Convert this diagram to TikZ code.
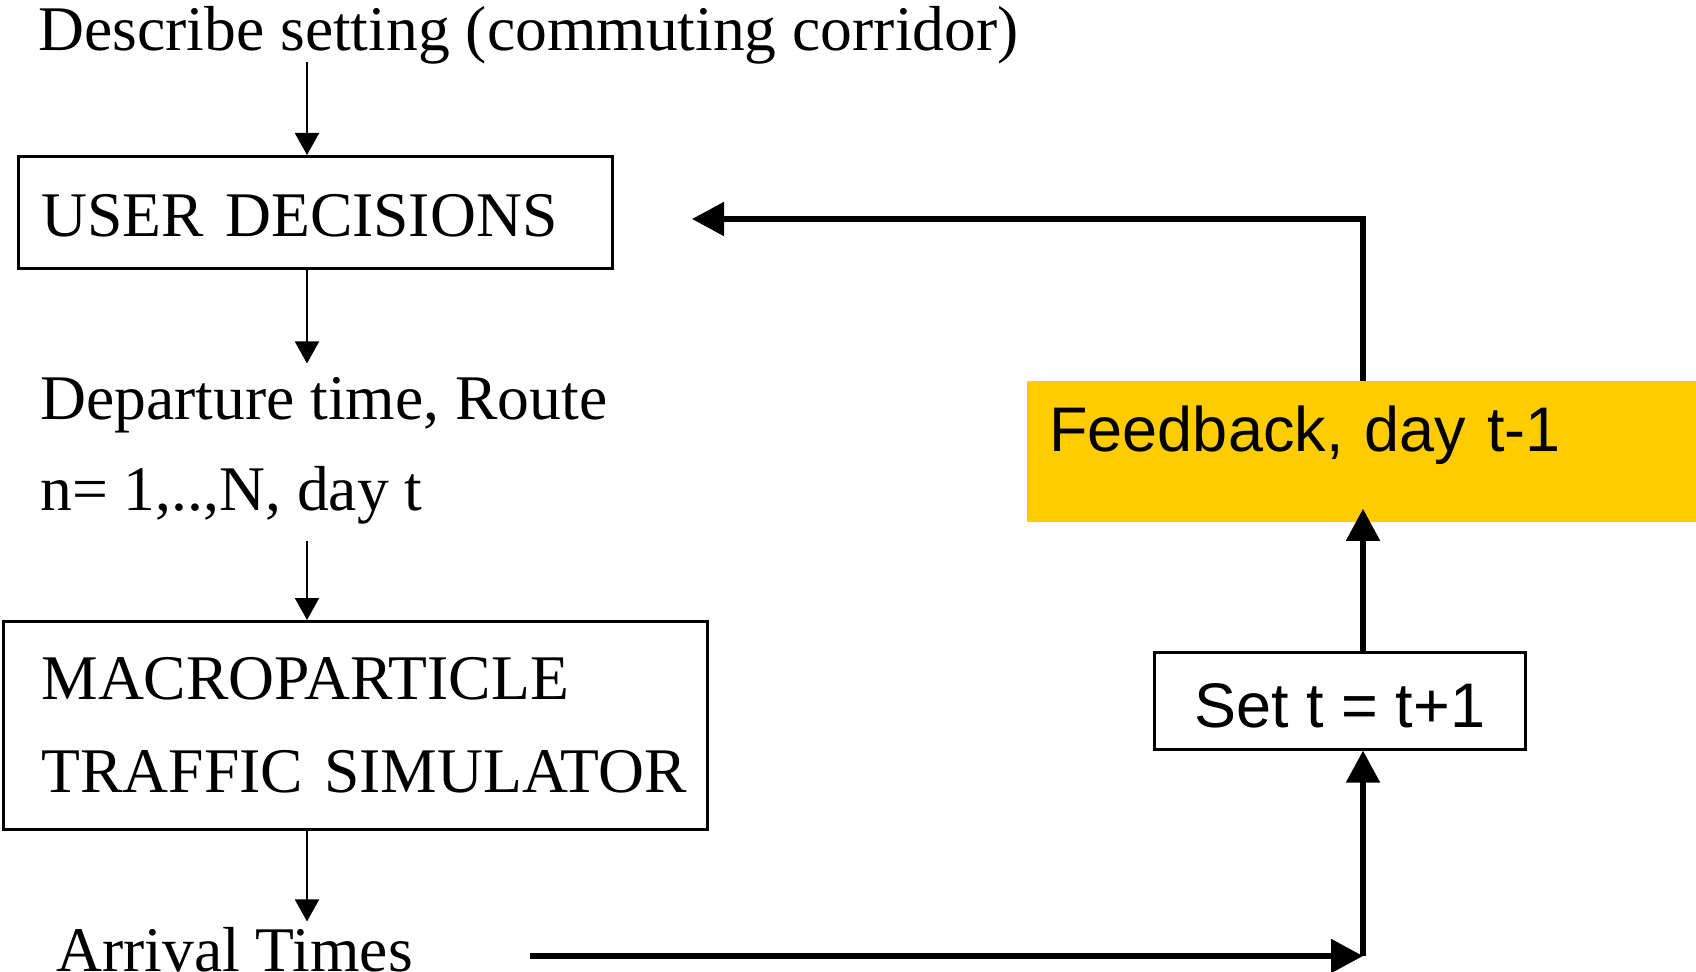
\documentclass[tikz,border=0pt]{standalone}
\usepackage{fontspec}
\setmainfont{Liberation Serif}
\newfontfamily\arialf{Liberation Sans}
\usetikzlibrary{arrows.meta,calc}
\definecolor{fbyellow}{HTML}{FFCC00}
\tikzset{
  serif/.style={font=\fontsize{31.8pt}{46.5pt}\selectfont, inner sep=0pt},
  sansf/.style={font=\arialf\fontsize{31.5pt}{38pt}\selectfont},
  box/.style={draw, line width=1.5pt},
  thinarrow/.style={line width=1pt, -{Triangle[length=11pt,width=12pt]}},
  thickarrow/.style={line width=2.6pt, -{Triangle[length=16pt,width=16.5pt]}},
}
\begin{document}
\begin{tikzpicture}[x=0.5pt,y=-0.5pt]
\useasboundingbox (0,0) rectangle (1696,972);
\coordinate (col) at (307,0);
\coordinate (bstart) at (530,956);
\coordinate (bcorner) at (1363,956);
\coordinate (uend) at (692,219);

% left column
\node[serif, anchor=base west] (title) at (38,51) {Describe setting (commuting corridor)};
\node[box, serif, anchor=north west, inner xsep=11.5pt, inner ysep=0pt, text width=274pt,
      align=left, text height=40pt, text depth=16pt] (ud) at (17,155) {USER DECISIONS};
\node[serif, anchor=base west] (dep1) at (40,420) {Departure time, Route};
\node[serif, anchor=base west] (dep2) at (40,510) {n= 1,..,N, day t};
\node[box, serif, anchor=north west, inner xsep=19pt, inner ysep=0pt, text width=314pt,
      minimum height=104pt, align=left] (mp) at (2,620)
      {\mbox{MACROPARTICLE}\\\mbox{TRAFFIC SIMULATOR}};
\node[serif, anchor=base west] (arr) at (56,971) {Arrival Times};

% right column
\node[fill=fbyellow, sansf, anchor=north west, inner xsep=11pt, inner ysep=0pt, text width=312.5pt,
      align=left, text height=35pt, text depth=35.5pt] (fb) at (1027,381) {Feedback, day t-1};
\node[box, sansf, anchor=north west, inner xsep=18.5pt, inner ysep=0pt, minimum width=185.5pt,
      text height=37.75pt, text depth=10.75pt, line width=1.3pt] (set) at (1153,651) {Set t = t+1};

% connectors
\draw[thinarrow] ($(title.base -| col)+(0,11)$) -- (ud.north -| col);
\draw[thinarrow] (ud.south -| col) -- ($(dep1.north -| col)+(0,-14)$);
\draw[thinarrow] ($(dep2.south -| col)+(0,17)$) -- (mp.north -| col);
\draw[thinarrow] (mp.south -| col) -- ($(arr.north -| col)+(0,-5)$);
\draw[thickarrow] (bstart) -- (bcorner);
\draw[thickarrow] (bcorner) -- (set.south -| bcorner);
\draw[thickarrow] (set.north -| bcorner) -- ($(fb.south -| bcorner)+(0,-14)$);
\draw[thickarrow] (fb.north -| bcorner) |- (uend);
\end{tikzpicture}
\end{document}
